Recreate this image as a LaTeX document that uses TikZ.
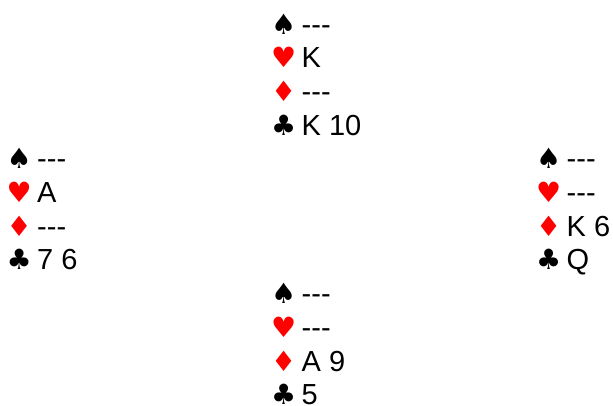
\documentclass[tikz,border=0pt]{standalone}
\usepackage{fontspec}
\setmainfont{Liberation Sans}
\newfontfamily\suitfont{DejaVu Sans}
\usetikzlibrary{positioning}
\newcommand{\suitsize}{\fontsize{28}{33.7}\suitfont}
\newcommand{\spd}{\makebox[18pt]{\suitsize ♠}}
\newcommand{\hrt}{\makebox[18pt]{\suitsize\color{red}♥}}
\newcommand{\dmd}{\makebox[18pt]{\suitsize\color{red}♦}}
\newcommand{\clb}{\makebox[18pt]{\suitsize ♣}}
\newcommand{\none}{-{}-{}-}
\newcommand{\hand}[4]{%
  \begin{tabular}[t]{@{}l@{\hspace{9pt}}l@{}}
    \spd & #1\\ \hrt & #2\\ \dmd & #3\\ \clb & #4
  \end{tabular}}

\begin{document}
\begin{tikzpicture}[
  x=1pt, y=-1pt,
  hand/.style={
    anchor=base west,
    inner sep=0pt,
    font=\fontsize{29}{33.7}\selectfont,
  },
]
\useasboundingbox (0,0) rectangle (613,405);

% ---- the four hands --------------------------------------------------------
\node[hand] (north) at (274.5,34)    {\hand{\none}{K}{\none}{K 10}};
\node[hand] (west)  at (10,168.8)    {\hand{\none}{A}{\none}{7 6}};
\node[hand] (east)  at (539.5,168.8) {\hand{\none}{\none}{K 6}{Q}};
\node[hand] (south) at (274.5,303.6) {\hand{\none}{\none}{A 9}{5}};

\end{tikzpicture}
\end{document}
